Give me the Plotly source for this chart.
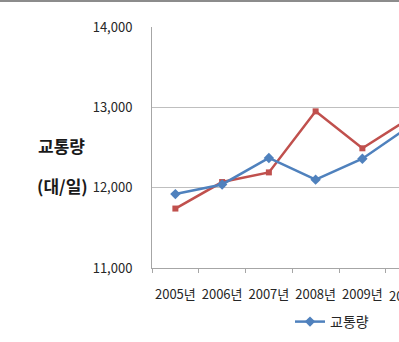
import plotly.graph_objects as go

years = ["2005년", "2006년", "2007년", "2008년", "2009년", "2010년"]
traffic = [11920, 12040, 12370, 12100, 12360, 12760]
series2 = [11740, 12070, 12190, 12950, 12490, 12860]
y_ticks = [11000, 12000, 13000, 14000]

W, H = 399, 342
L, T, B = 152, 27, 74
plot_w = W - L
plot_h = H - T - B
cat_px = 46.75
x_end = -0.5 + plot_w / cat_px

fig = go.Figure()
fig.add_trace(go.Scatter(
    x=years, y=series2, mode="lines+markers", name="",
    line=dict(color="#C0504D", width=2.5),
    marker=dict(symbol="square", size=6, color="#C0504D"),
    showlegend=False, cliponaxis=True))
fig.add_trace(go.Scatter(
    x=years, y=traffic, mode="lines+markers", name="교통량",
    line=dict(color="#4F81BD", width=2.5),
    marker=dict(symbol="diamond", size=8, color="#4F81BD"),
    cliponaxis=True))

font = "Noto Sans CJK KR, Malgun Gothic, sans-serif"
tick_col = "#262626"
fig.update_layout(
    width=W, height=H,
    margin=dict(l=L, r=0, t=T, b=B, pad=0),
    paper_bgcolor="white", plot_bgcolor="white",
    font=dict(family=font, size=13, color=tick_col),
    showlegend=True,
    legend=dict(orientation="h", x=(290 - L) / plot_w, y=-(322 - 268) / plot_h,
                xanchor="left", yanchor="middle", font=dict(size=14, color=tick_col),
                itemwidth=30, bgcolor="rgba(0,0,0,0)"),
    xaxis=dict(type="category", range=[-0.5, x_end], showline=True, linecolor="#a6a6a6",
               linewidth=1, ticks="outside", ticklen=4, tickcolor="#a6a6a6",
               tickson="boundaries", showgrid=False, ticklabelstandoff=14, tickangle=0,
               tickfont=dict(size=13, color=tick_col), fixedrange=True),
    yaxis=dict(range=[11000, 14000], tickvals=y_ticks, tickformat=",", showline=True,
               linecolor="#a6a6a6", linewidth=1, showgrid=True, gridcolor="#bfbfbf",
               gridwidth=1, ticks="", ticklabelstandoff=16, zeroline=False,
               tickfont=dict(size=13, color=tick_col)),
    annotations=[
        dict(text="<b>교통량</b>", xref="paper", yref="paper",
             x=-(L - 61) / plot_w, y=(H - B - 145) / plot_h,
             showarrow=False, xanchor="center", yanchor="middle",
             font=dict(size=17, color="#1a1a1a")),
        dict(text="<b>(대/일)</b>", xref="paper", yref="paper",
             x=-(L - 62) / plot_w, y=(H - B - 185) / plot_h,
             showarrow=False, xanchor="center", yanchor="middle",
             font=dict(size=17, color="#1a1a1a")),
        dict(text="2010년", xref="paper", yref="paper",
             x=(5 - (-0.5)) / (x_end + 0.5), y=-(295 - 268) / plot_h,
             showarrow=False, xanchor="center", yanchor="middle",
             font=dict(size=13, color=tick_col)),
    ],
    shapes=[dict(type="line", xref="paper", yref="paper", x0=-1, x1=1,
                 y0=(H - B - 1) / plot_h, y1=(H - B - 1) / plot_h,
                 line=dict(color="#8c8c8c", width=2))],
)
fig.write_html("out.html")
